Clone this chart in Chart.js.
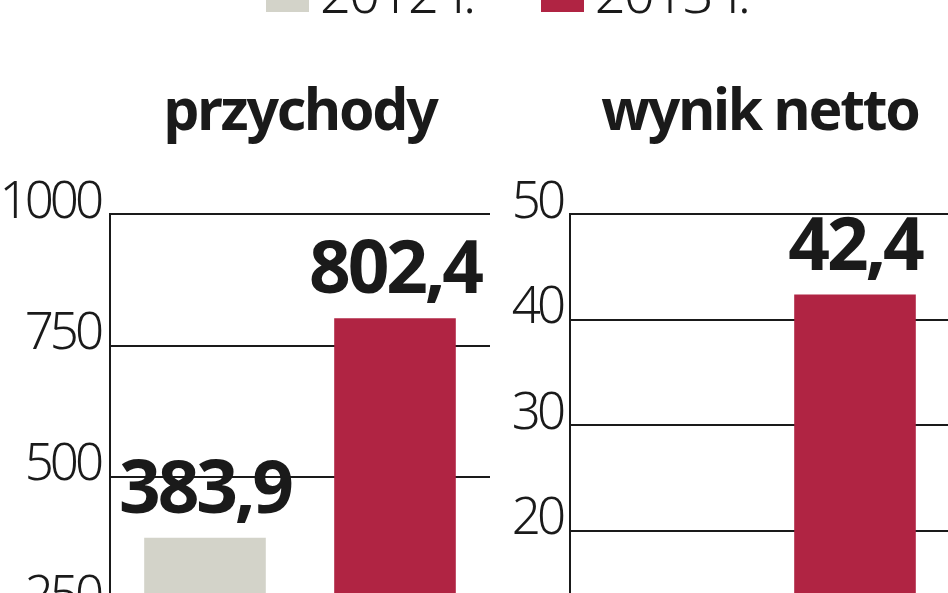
<!DOCTYPE html>
<html>
<head>
<meta charset="utf-8">
<script src="https://cdn.jsdelivr.net/npm/chart.js@4.4.1/dist/chart.umd.min.js"></script>
<style>
  html, body { margin: 0; padding: 0; background: #fff; overflow: hidden; width: 948px; height: 593px; }
  #wrap { position: relative; width: 948px; height: 593px; overflow: hidden; }
  #c1 { position: absolute; left: 0; top: 0; }
  #c2 { position: absolute; left: 490px; top: 0; }
  #legend { position: absolute; left: 266px; top: -35px; display: flex; align-items: baseline; white-space: nowrap; }
  .lg-item { display: flex; align-items: baseline; margin-right: 66px; }
  .lg-box { display: inline-block; width: 43px; height: 29px; margin-right: 11px; position: relative; top: -1px; }
  .lg-text { font-family: 'Noto Sans', sans-serif; font-weight: 300; font-size: 54px; letter-spacing: -1.5px; word-spacing: 2px; line-height: 1; color: #1a1a1a; }
</style>
</head>
<body>
<div id="wrap">
  <canvas id="c1" width="490" height="780"></canvas>
  <canvas id="c2" width="460" height="780"></canvas>
  <div id="legend"></div>
</div>
<script>
// ---- data ----
const seriesLabels = ['2012 r.', '2013 r.'];
const seriesColors = ['#d3d3c9', '#b02443'];
const panelTitles = ['przychody', 'wynik netto'];
const revenue = [383.9, 802.4];
const netProfit = [4.5, 42.4];
const revenueTicks = [0, 250, 500, 750, 1000];
const netProfitTicks = [0, 10, 20, 30, 40, 50];

// ---- styling ----
const FONT = "'Noto Sans', sans-serif";
const INK = '#1a1a1a';

function fmt(v) { return v.toFixed(1).replace('.', ','); }

// tighter letter spacing to imitate the condensed newspaper typeface
const condensedText = {
  id: 'condensedText',
  beforeDraw(chart) { chart.ctx.letterSpacing = '-2.2px'; },       // titles
  afterDatasetsDraw(chart) { chart.ctx.letterSpacing = '-4px'; }   // tick labels (drawn on z=1)
};

const valueLabels = {
  id: 'valueLabels',
  afterDatasetsDraw(chart) {
    const ctx = chart.ctx;
    const meta = chart.getDatasetMeta(0);
    const data = chart.data.datasets[0].data;
    ctx.save();
    ctx.font = 'bold 73px ' + FONT;
    ctx.letterSpacing = '-3.2px';
    ctx.fillStyle = INK;
    ctx.textAlign = 'center';
    ctx.textBaseline = 'alphabetic';
    meta.data.forEach((bar, i) => {
      ctx.fillText(fmt(data[i]), bar.x, bar.y - 25);
    });
    ctx.restore();
  }
};

function makeChart(id, title, values, ticks, axisWidth, tickPad) {
  return new Chart(document.getElementById(id), {
    type: 'bar',
    data: {
      labels: seriesLabels,
      datasets: [{
        label: title,
        data: values,
        backgroundColor: seriesColors,
        borderWidth: 0,
        categoryPercentage: 1,
        barPercentage: 0.64
      }]
    },
    options: {
      responsive: false,
      animation: false,
      devicePixelRatio: 1,
      layout: { padding: { top: 0, right: 0, bottom: 0, left: 0 } },
      plugins: {
        legend: { display: false },
        tooltip: { enabled: false },
        title: {
          display: true,
          text: title,
          fullSize: false,
          color: INK,
          font: { family: FONT, size: 57, weight: 'bold', lineHeight: 1.2 },
          padding: { top: 80, bottom: 66 }
        }
      },
      scales: {
        x: { display: false },
        y: {
          min: ticks[0],
          max: ticks[ticks.length - 1],
          afterBuildTicks: s => { s.ticks = ticks.map(v => ({ value: v })); },
          afterFit: s => { s.width = axisWidth; },
          grid: { color: INK, lineWidth: 2, drawTicks: false },
          border: { display: true, color: INK, width: 2 },
          ticks: {
            z: 1,
            font: { family: FONT, size: 51, weight: '300' },
            color: INK,
            padding: tickPad,
            labelOffset: -11,
            callback: v => String(v)
          }
        }
      }
    },
    plugins: [condensedText, valueLabels]
  });
}

makeChart('c1', panelTitles[0], revenue, revenueTicks, 110, 10);
makeChart('c2', panelTitles[1], netProfit, netProfitTicks, 80, 8);

// legend built from the series arrays
const legendEl = document.getElementById('legend');
seriesLabels.forEach((lab, i) => {
  const item = document.createElement('span');
  item.className = 'lg-item';
  const box = document.createElement('span');
  box.className = 'lg-box';
  box.style.background = seriesColors[i];
  const txt = document.createElement('span');
  txt.className = 'lg-text';
  txt.textContent = lab;
  item.appendChild(box);
  item.appendChild(txt);
  legendEl.appendChild(item);
});
</script>
</body>
</html>
